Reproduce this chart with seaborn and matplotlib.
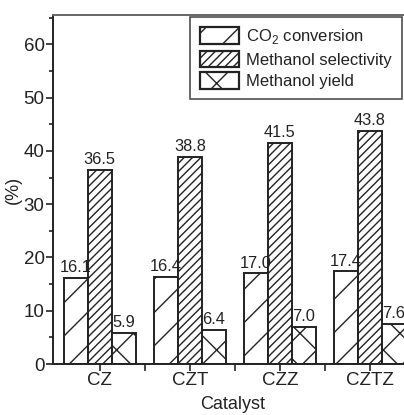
import matplotlib
matplotlib.use("Agg")
import matplotlib.pyplot as plt
import seaborn as sns
import pandas as pd
import numpy as np
from matplotlib.ticker import MultipleLocator, FixedLocator
from matplotlib.patches import Patch

catalysts = ["CZ", "CZT", "CZZ", "CZTZ"]
series = ["CO$_2$ conversion", "Methanol selectivity", "Methanol yield"]
co2_conversion = [16.1, 16.4, 17.0, 17.4]
methanol_selectivity = [36.5, 38.8, 41.5, 43.8]
methanol_yield = [5.9, 6.4, 7.0, 7.6]

df = pd.DataFrame({
    "Catalyst": catalysts * 3,
    "Series": [series[0]] * 4 + [series[1]] * 4 + [series[2]] * 4,
    "Value": co2_conversion + methanol_selectivity + methanol_yield,
})

sns.set_style("ticks")
plt.rcParams["font.family"] = ["Liberation Sans", "DejaVu Sans"]
plt.rcParams["hatch.linewidth"] = 1.0
plt.rcParams["mathtext.fontset"] = "custom"
plt.rcParams["mathtext.rm"] = "Liberation Sans"
ink = "#222222"

fig = plt.figure(figsize=(4.04, 4.15), dpi=100)
ax = fig.add_axes([53 / 404, 1 - 364 / 415, 1 - 53 / 404 + 0.02, (364 - 15) / 415])

sns.barplot(data=df, x="Catalyst", y="Value", hue="Series", order=catalysts,
            hue_order=series, ax=ax, width=0.8, palette=["white"] * 3,
            edgecolor=ink, linewidth=1.4, legend=False)

hatches = ["/", "////", "x"]
for cont, h in zip(ax.containers, hatches):
    for bar in cont:
        bar.set_hatch(h)
        bar.set_facecolor("white")
        bar.set_edgecolor(ink)
    ax.bar_label(cont, fmt="%.1f", padding=2, fontsize=11.8, color=ink)

ax.set_ylim(0, 65.5)
ax.set_xlim(-0.52, 3.47)
ax.yaxis.set_major_locator(FixedLocator([0, 10, 20, 30, 40, 50, 60]))
ax.yaxis.set_minor_locator(MultipleLocator(5))
ax.xaxis.set_minor_locator(FixedLocator([0.5, 1.5, 2.5]))
ax.tick_params(axis="both", which="major", direction="out", length=5, width=1.2,
               color=ink, labelsize=13.5, labelcolor=ink, pad=1)
ax.tick_params(axis="both", which="minor", direction="out", length=3, width=1.2, color=ink)
ax.tick_params(axis="x", which="minor", length=5)

for s in ["left", "bottom", "top"]:
    ax.spines[s].set_linewidth(1.4)
    ax.spines[s].set_color(ink)
ax.spines["top"].set_color("#666666")
ax.spines["right"].set_visible(False)

ax.set_xlabel("Catalyst", fontsize=13, color=ink, labelpad=5)
ax.set_ylabel("(%)", fontsize=13, color=ink, labelpad=1)

handles = [Patch(facecolor="white", edgecolor=ink, hatch=h, linewidth=1.6) for h in hatches]
leg = fig.legend(handles, series, loc="upper left", bbox_to_anchor=(190 / 404, 1 - 17 / 415),
                 fontsize=12, frameon=True, fancybox=False, edgecolor=ink,
                 handlelength=2.35, handleheight=1.15, handletextpad=0.4,
                 labelspacing=0.28, borderpad=0.6, borderaxespad=0)
leg.get_frame().set_linewidth(1.2)
for t in leg.get_texts():
    t.set_color(ink)

fig.savefig("out.png", dpi=100)
